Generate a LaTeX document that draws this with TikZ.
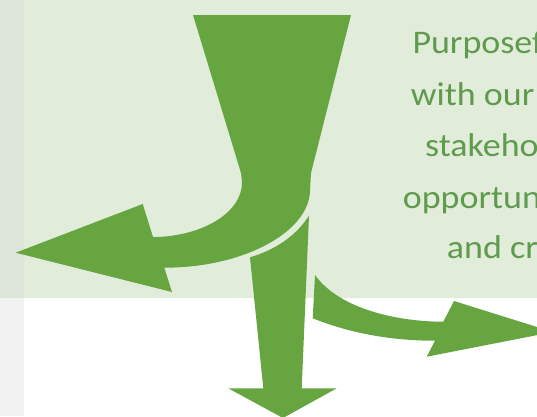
\documentclass[tikz,border=0pt]{standalone}
\usepackage{fontspec}
\setmainfont{Carlito}[FakeStretch=1.09]
\definecolor{arrowgreen}{HTML}{67A540}
\definecolor{textgreen}{HTML}{5F9B4C}
\definecolor{bggreen}{HTML}{E2ECDB}
\definecolor{stripgray}{HTML}{F2F2F2}
\definecolor{stripgreen}{HTML}{DDE5D8}
\tikzset{
  shape arrow/.style={fill=arrowgreen, draw=none},
  lbl/.style={anchor=base west, inner sep=0pt, text=textgreen, font=\fontsize{33}{33}\selectfont}
}
\begin{document}
\begin{tikzpicture}[x=1pt,y=-1pt]
\useasboundingbox (0,0) rectangle (537,416);
\clip (0,0) rectangle (537,416);
% backgrounds
\fill[white] (0,0) rectangle (537,416);
\fill[bggreen] (0,0) rectangle (537,298);
\fill[stripgray] (0,298) rectangle (24,416);
\fill[stripgreen] (0,0) rectangle (24,298);
% funnel + left arrow
\fill[shape arrow] (193,15) -- (241,173) -- (242,182)
  .. controls (242,215) and (198,237) .. (153,237)
  -- (142.7,204) -- (15.7,252.7) -- (172,292) -- (164.3,267.7)
  .. controls (245,267.7) and (310,231) .. (310,190)
  -- (311,173) -- (351,15) -- cycle;
% down arrow
\fill[shape arrow] (309,215.7) .. controls (296,236) and (275,250) .. (250,257.3)
  -- (263.3,388.3) -- (228.3,388.3) -- (283,418) -- (336.7,388.3)
  -- (301.7,388.3) -- cycle;
% right arrow
\fill[shape arrow] (315,275) .. controls (340,310) and (400,321.7) .. (443.3,321.7)
  -- (454,301) -- (553,332) -- (426.7,356.7) -- (435,340.7)
  .. controls (390,340.7) and (350,333) .. (312.7,318.3) -- cycle;
% text
\node[lbl] (t1) at (412.3,53.3) {Purposef};
\node[lbl] (t2) at (410.7,105) {with our};
\node[lbl] (t3) at (425,156.7) {stakeho};
\node[lbl] (t4) at (402.7,208) {opportun};
\node[lbl] (t5) at (446.7,258) {and cre};
\end{tikzpicture}
\end{document}
